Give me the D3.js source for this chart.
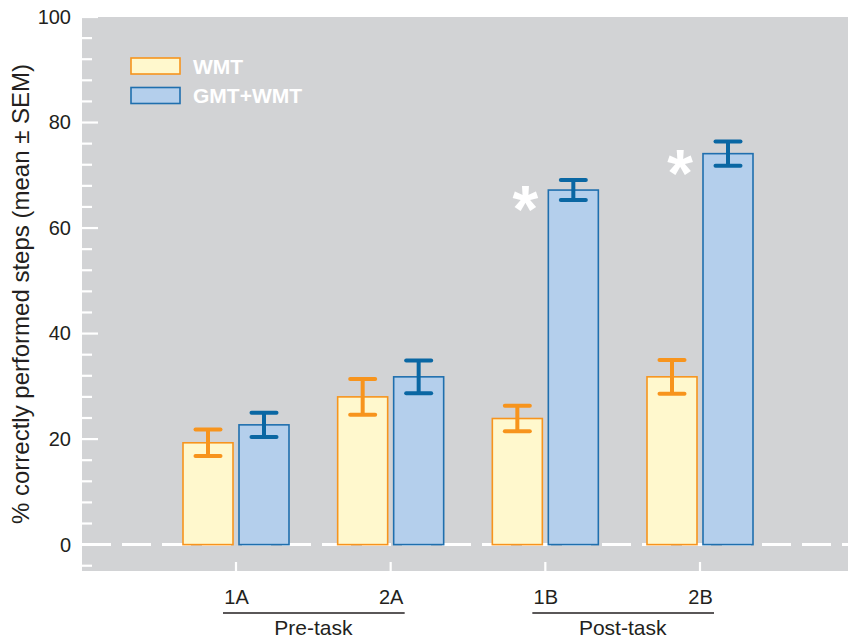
<!DOCTYPE html>
<html>
<head>
<meta charset="utf-8">
<script src="https://cdn.jsdelivr.net/npm/d3@7"></script>
<style>
  body { margin: 0; background: #fff; }
  svg { display: block; font-family: "Liberation Sans", Arial, sans-serif; }
</style>
</head>
<body>
<svg id="chart" width="848" height="642"></svg>
<script>
// Sessions and groups
const sessions = ["1A", "2A", "1B", "2B"];
const series = ["WMT", "GMT+WMT"];
// Mean % correctly performed steps
const wmtMean = [19.3, 28.0, 23.9, 31.8];
const gmtMean = [22.7, 31.8, 67.2, 74.1];
// Standard error of the mean
const wmtSem = [2.5, 3.4, 2.4, 3.2];
const gmtSem = [2.3, 3.1, 1.9, 2.3];
// Significant differences marked with an asterisk
const significant = [false, false, true, true];
// Phase brackets under the session labels
const phases = [
  { label: "Pre-task", from: "1A", to: "2A" },
  { label: "Post-task", from: "1B", to: "2B" }
];
const yTicks = [0, 20, 40, 60, 80, 100];

const fills = { "WMT": "#fff8cd", "GMT+WMT": "#b4cfec" };
const strokes = { "WMT": "#f7941d", "GMT+WMT": "#1f6fae" };
const errColors = { "WMT": "#f7941d", "GMT+WMT": "#0a67a3" };
const ink = "#231f20";

const svg = d3.select("#chart");
const plot = { left: 82, right: 848, top: 17, bottom: 571 };

const y = d3.scaleLinear().domain([-5, 100]).range([plot.bottom, plot.top]);
const x = d3.scalePoint().domain(sessions).range([236, 700]);
const inner = d3.scaleBand().domain(series).range([-53, 53]).paddingInner(0.107);

// grey plotting panel
svg.append("rect")
  .attr("x", plot.left).attr("y", plot.top)
  .attr("width", plot.right - plot.left).attr("height", plot.bottom - plot.top)
  .attr("fill", "#d2d3d5");

// y axis: white inward ticks, minor every 4, major every 20
const minorTicks = d3.range(-4, 101, 4);
svg.append("g").selectAll("line").data(minorTicks).join("line")
  .attr("x1", plot.left).attr("x2", d => d % 20 === 0 ? plot.left + 16 : plot.left + 10)
  .attr("y1", d => y(d)).attr("y2", d => y(d))
  .attr("stroke", "#fff").attr("stroke-width", 2.2);

const yAxis = d3.axisLeft(y).tickValues(yTicks).tickSize(0).tickPadding(11);
const gy = svg.append("g").attr("transform", `translate(${plot.left},0)`).call(yAxis);
gy.select(".domain").remove();
gy.selectAll("text").attr("font-size", 20).attr("fill", ink)
  .attr("font-family", "Liberation Sans, Arial, sans-serif");

svg.append("text")
  .attr("transform", `translate(29,${y(47.5)}) rotate(-90)`)
  .attr("text-anchor", "middle")
  .attr("font-size", 24).attr("fill", ink)
  .text("% correctly performed steps (mean \u00b1 SEM)");

// zero reference line
svg.append("line")
  .attr("x1", plot.left).attr("x2", plot.right)
  .attr("y1", y(0)).attr("y2", y(0))
  .attr("stroke", "#fff").attr("stroke-width", 3)
  .attr("stroke-dasharray", "29,11");

// x axis: white ticks rising from the panel bottom
svg.append("g").selectAll("line").data(sessions).join("line")
  .attr("x1", d => x(d)).attr("x2", d => x(d))
  .attr("y1", plot.bottom).attr("y2", plot.bottom - 9)
  .attr("stroke", "#fff").attr("stroke-width", 2.2);

const xAxis = d3.axisBottom(x).tickSize(0).tickPadding(19);
const gx = svg.append("g").attr("transform", `translate(0,${plot.bottom})`).call(xAxis);
gx.select(".domain").remove();
gx.selectAll("text").attr("font-size", 20).attr("fill", ink)
  .attr("font-family", "Liberation Sans, Arial, sans-serif");

// phase brackets
const ph = svg.append("g").selectAll("g").data(phases).join("g");
ph.append("line")
  .attr("x1", d => x(d.from) - 13).attr("x2", d => x(d.to) + 14)
  .attr("y1", 613).attr("y2", 613)
  .attr("stroke", ink).attr("stroke-width", 1.6);
ph.append("text")
  .attr("x", d => (x(d.from) + x(d.to)) / 2)
  .attr("y", 635)
  .attr("text-anchor", "middle")
  .attr("font-size", 21).attr("fill", ink)
  .text(d => d.label);

// bars and error bars
const rows = sessions.flatMap((s, i) => [
  { session: s, key: "WMT", mean: wmtMean[i], sem: wmtSem[i] },
  { session: s, key: "GMT+WMT", mean: gmtMean[i], sem: gmtSem[i] }
]);

const bars = svg.append("g").selectAll("g").data(rows).join("g");
bars.append("rect")
  .attr("x", d => x(d.session) + inner(d.key))
  .attr("y", d => y(d.mean))
  .attr("width", inner.bandwidth())
  .attr("height", d => y(0) - y(d.mean))
  .attr("fill", d => fills[d.key])
  .attr("stroke", d => strokes[d.key])
  .attr("stroke-width", 1.6);

const cx = d => x(d.session) + inner(d.key) + inner.bandwidth() / 2;
bars.append("line")
  .attr("x1", cx).attr("x2", cx)
  .attr("y1", d => y(d.mean + d.sem)).attr("y2", d => y(d.mean - d.sem))
  .attr("stroke", d => errColors[d.key]).attr("stroke-width", 4);
[1, -1].forEach(sign => {
  bars.append("line")
    .attr("x1", d => cx(d) - 12.5).attr("x2", d => cx(d) + 12.5)
    .attr("y1", d => y(d.mean + sign * d.sem)).attr("y2", d => y(d.mean + sign * d.sem))
    .attr("stroke", d => errColors[d.key]).attr("stroke-width", 4)
    .attr("stroke-linecap", "round");
});

// significance markers
svg.append("g").selectAll("text")
  .data(sessions.map((s, i) => ({ s, i })).filter(d => significant[d.i]))
  .join("text")
  .attr("x", d => x(d.s) - 20)
  .attr("y", d => y(gmtMean[d.i]) + 42)
  .attr("text-anchor", "middle")
  .attr("font-size", 66).attr("font-weight", "bold").attr("fill", "#fff")
  .text("*");

// legend
const legend = svg.append("g").selectAll("g").data(series).join("g")
  .attr("transform", (d, i) => `translate(131,${58 + i * 29.5})`);
legend.append("rect")
  .attr("width", 49).attr("height", 16)
  .attr("fill", d => fills[d]).attr("stroke", d => strokes[d]).attr("stroke-width", 1.6);
legend.append("text")
  .attr("x", 62).attr("y", 8).attr("dy", "0.36em")
  .attr("font-size", 21).attr("font-weight", "bold").attr("fill", "#fff")
  .text(d => d);
</script>
</body>
</html>
